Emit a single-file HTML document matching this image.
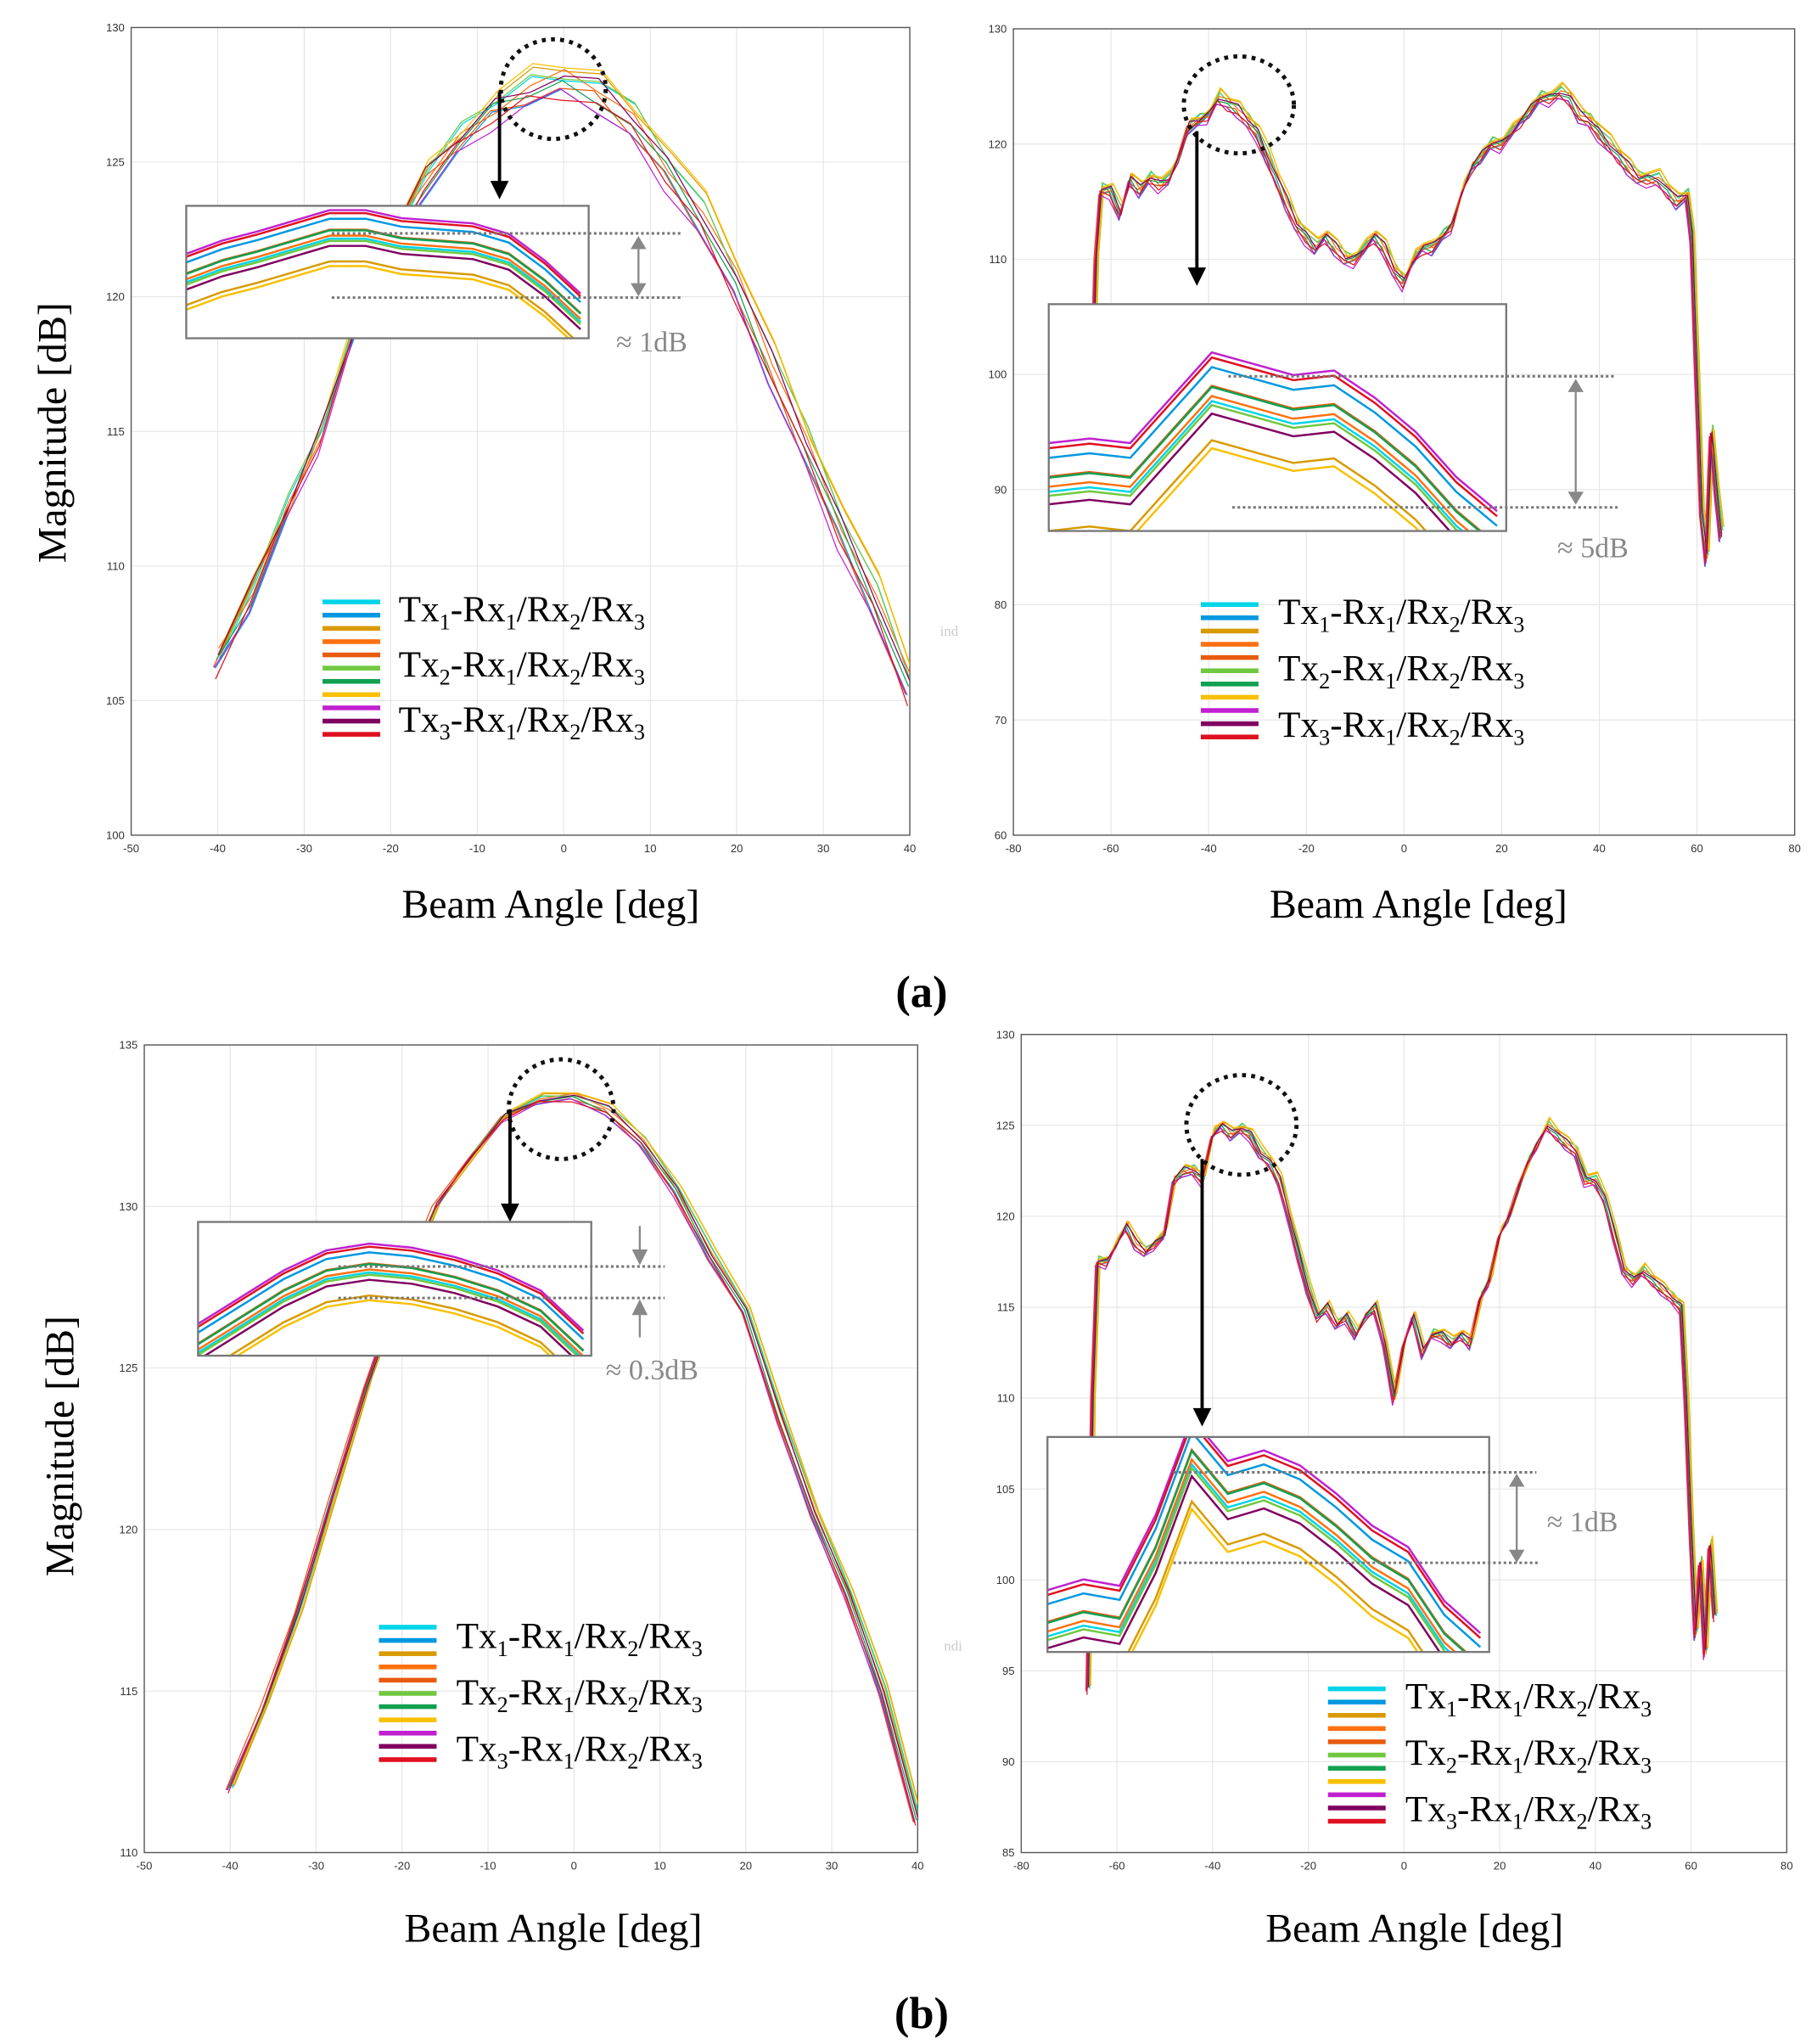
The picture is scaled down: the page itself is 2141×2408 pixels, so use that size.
<!DOCTYPE html>
<html><head><meta charset="utf-8"><style>
html,body{margin:0;padding:0;background:#fff}
svg{display:block}
text{font-family:"Liberation Serif",serif}
.tk{font-family:"Liberation Sans",sans-serif;font-size:8.5px;fill:#333}
</style></head><body>
<svg id="fig" width="2141" height="2408" viewBox="0 0 1386 1559" xmlns="http://www.w3.org/2000/svg">
</svg>
<script>
// ---- data ----
const colors = ["#00d4e8","#0098e0","#d89a00","#ff7010","#e85a10","#70c840","#10a050","#f8c000","#c020d0","#800060","#e01020"];
const seriesOffset = [0.25,-0.35,0.4,0.1,-0.2,0.3,-0.1,0.5,-0.45,0.15,-0.3];
const seriesShift = [0.6,-0.6,1.0,0.2,-1.0,0.4,-0.3,0.8,-0.8,0.1,-0.5];

const aL_x = [-40,-36,-32,-28,-24,-20,-16,-12,-8,-4,0,4,8,12,16,20,24,28,32,36,40];
const aL_y = [106.5,109,112,115,119,122,124.3,125.8,127,127.7,128,127.6,126.5,124.8,123,120.5,117.5,114.5,111.5,108.8,105.5];

const aR_x = [-64,-63,-62,-60,-58,-56,-54,-52,-50,-48,-46,-44,-42,-40,-38,-36,-34,-32,-30,-28,-26,-24,-22,-20,-18,-16,-14,-12,-10,-8,-6,-4,-2,0,2,4,6,8,10,12,14,16,18,20,22,24,26,28,30,32,34,36,38,40,42,44,46,48,50,52,54,56,58,59,60,61,62,63,64,65];
const aR_y = [96,110,116,116,114,117,116,117,116.5,117,119,121.5,122,122.5,124,123.5,123,122,121,119,117,115,113,112,111,112,111,110,110,111,112,111,109,108,110,111,111,112,113,116,118,119,120,120,121,122,123,124,124,124.5,124,122.5,122,121,120,119,118,117,117,117,116,115,115.5,112,100,88,84,95,90,86];

const bL_x = [-40,-36,-32,-28,-24,-20,-16,-12,-8,-4,0,4,8,12,16,20,24,28,32,36,40];
const bL_y = [112,114.5,117.5,121,124.5,127.5,130,131.5,132.8,133.3,133.4,133,132,130.5,128.5,126.8,123.5,120.5,118,115,111];

const bR_x = [-66,-65,-64,-62,-60,-58,-56,-54,-52,-50,-48,-46,-44,-42,-40,-38,-36,-34,-32,-30,-28,-26,-24,-22,-20,-18,-16,-14,-12,-10,-8,-6,-4,-2,0,2,4,6,8,10,12,14,16,18,20,22,24,26,28,30,32,34,36,38,40,42,44,46,48,50,52,54,56,58,59,60,61,62,63,64,65];
const bR_y = [94,110,117.5,117.5,118.5,119.5,118.5,118,118.5,119,122,122.5,122.5,122,124.5,125,124.5,124.8,124.5,123.5,123,122,120,118,116,114.5,115,114,114.5,113.5,114.5,115,113,110,113,114.5,112.5,113.5,113.5,113,113.5,113,115.5,116.5,119,120,121.5,123,124,125,124.5,124,123.5,122,122,121,119,117,116.5,117,116.5,116,115.5,115,110,103,97,101,96,102,98];

const inset_aL = [0.55,0.45,0.38,0.3,0.22,0.22,0.28,0.3,0.32,0.4,0.6,0.85];
const inset_aR = [0.8,0.78,0.8,0.6,0.4,0.45,0.5,0.48,0.6,0.75,0.95,1.1];
const inset_bL = [0.95,0.75,0.55,0.4,0.35,0.38,0.45,0.55,0.7,1.0];
const inset_bR = [0.9,0.85,0.88,0.55,0.1,0.3,0.25,0.32,0.45,0.6,0.7,0.95,1.1];

const legendLabels = [["Tx","1"],["Tx","2"],["Tx","3"]];

// ---- drawing ----
const NS = "http://www.w3.org/2000/svg";
const svg = document.getElementById("fig");
function mk(tag, attrs, parent){const e=document.createElementNS(NS,tag);for(const k in attrs)e.setAttribute(k,attrs[k]);(parent||svg).appendChild(e);return e;}

function panel(id, box, xr, xstep, yr, ystep, xs, ys, amp){
  const [x0,y0,x1,y1]=box;
  const g=mk("g",{});
  
  
  const sx=v=>x0+(v-xr[0])/(xr[1]-xr[0])*(x1-x0);
  const sy=v=>y1-(v-yr[0])/(yr[1]-yr[0])*(y1-y0);
  for(let v=xr[0];v<=xr[1]+1e-6;v+=xstep){
    mk("line",{x1:sx(v),x2:sx(v),y1:y0,y2:y1,stroke:"#e4e4e4","stroke-width":0.7},g);
    const t=mk("text",{x:sx(v),y:y1+13,"text-anchor":"middle",class:"tk"},g);t.textContent=v;
    
    
  }
  for(let v=yr[0];v<=yr[1]+1e-6;v+=ystep){
    mk("line",{x1:x0,x2:x1,y1:sy(v),y2:sy(v),stroke:"#e4e4e4","stroke-width":0.7},g);
    const t=mk("text",{x:x0-5,y:sy(v)+3,"text-anchor":"end",class:"tk"},g);t.textContent=v;
    
    
  }
  const ax=mk("rect",{x:x0,y:y0,width:x1-x0,height:y1-y0,fill:"none",stroke:"#555","stroke-width":0.9},g);
  
  
  const cid="pclip-"+id;
  const cp=mk("clipPath",{id:cid},g);mk("rect",{x:x0,y:y0,width:x1-x0,height:y1-y0},cp);
  colors.forEach((c,i)=>{
    const pts=xs.map((x,k)=>{const w=((k*7+i*3)%5-2)*0.12*amp;return sx(x+seriesShift[i]*0.5)+","+sy(ys[k]+seriesOffset[i]*amp+w);}).join(" ");
    const p=mk("polyline",{points:pts,fill:"none",stroke:c,"stroke-width":0.8,"clip-path":"url(#"+cid+")"},g);
    
    
  });
  return g;
}

function inset(id, box, vals){
  const [x0,y0,x1,y1]=box;
  const g=mk("g",{});
  
  
  mk("rect",{x:x0,y:y0,width:x1-x0,height:y1-y0,fill:"#fff"},g);
  const cid="iclip-"+id;
  const cp=mk("clipPath",{id:cid},g);mk("rect",{x:x0,y:y0,width:x1-x0,height:y1-y0},cp);
  const n=vals.length;
  colors.forEach((c,i)=>{
    const pts=vals.map((v,k)=>{const w=((k*5+i*7)%5-2)*0.03;return (x0+k/(n-1)*(x1-x0)*0.98)+","+(y0+(v+seriesOffset[i]*0.35+w)*(y1-y0));}).join(" ");
    const p=mk("polyline",{points:pts,fill:"none",stroke:c,"stroke-width":1.6,"clip-path":"url(#"+cid+")"},g);
    
    
  });
  mk("rect",{x:x0,y:y0,width:x1-x0,height:y1-y0,fill:"none",stroke:"#777","stroke-width":1.5},g);
}

function dotted(x1,y,x2){mk("line",{x1:x1,x2:x2,y1:y,y2:y,stroke:"#777","stroke-width":2,"stroke-dasharray":"2,2"});}
function darrow(x,ya,yb){
  mk("line",{x1:x,x2:x,y1:ya+8,y2:yb-8,stroke:"#888","stroke-width":1.5});
  mk("polygon",{points:`${x-6},${ya+10} ${x+6},${ya+10} ${x},${ya}`,fill:"#888"});
  mk("polygon",{points:`${x-6},${yb-10} ${x+6},${yb-10} ${x},${yb}`,fill:"#888"});
}
function circ(cx,cy,rx,ry){const e=mk("ellipse",{cx:cx,cy:cy,rx:rx,ry:ry,fill:"none",stroke:"#111","stroke-width":3.2,"stroke-dasharray":"3,4"});}
function arrow(x,ya,yb){mk("line",{x1:x,x2:x,y1:ya,y2:yb-12,stroke:"#000","stroke-width":2.5});mk("polygon",{points:`${x-7},${yb-14} ${x+7},${yb-14} ${x},${yb}`,fill:"#000"});}
function txt(x,y,s,size,attrs){const t=mk("text",Object.assign({x:x,y:y,"font-size":size},attrs||{}));t.textContent=s;return t;}

function legend(x,y0,textX,rows){
  const g=mk("g",{});
  
  
  colors.forEach((c,i)=>{const r=mk("rect",{x:x,y:y0+i*10.1-1.7,width:44,height:3.6,fill:c},g);
    });
  rows.forEach((ry,i)=>{
    const t=mk("text",{x:textX,y:ry,"font-size":28},g);
    
    const n=legendLabels[i][1];
    t.innerHTML=`Tx<tspan font-size="17" dy="6">${n}</tspan><tspan dy="-6">-Rx</tspan><tspan font-size="17" dy="6">1</tspan><tspan dy="-6">/Rx</tspan><tspan font-size="17" dy="6">2</tspan><tspan dy="-6">/Rx</tspan><tspan font-size="17" dy="6">3</tspan>`;
  });
}

// Panel (a) left
panel("a-left",[100,21,694,637],[-50,40],10,[100,130],5,aL_x,aL_y,1.3);
circ(422,68,40,38); arrow(381,70,152);
inset("a-left",[142,157,449,258],inset_aL);
dotted(253,178,520); dotted(253,227,520); darrow(487,180,226);
txt(470,268,"≈ 1dB",22,{fill:"#888"});
legend(246,459,304,[474,516,558]);
// Panel (a) right
panel("a-right",[773,22,1369,637],[-80,80],20,[60,130],10,aR_x,aR_y,1.2);
circ(945,80,42,37); arrow(913,100,218);
inset("a-right",[800,232,1149,405],inset_aR);
dotted(937,287,1233); dotted(940,387,1236); darrow(1202,289,385);
txt(1188,425,"≈ 5dB",22,{fill:"#888"});
legend(916,461,975,[476,519,562]);
txt(717,485,"ind",11,{fill:"#ccc"});
// Panel (b) left
panel("b-left",[110,797,700,1413],[-50,40],10,[110,135],5,bL_x,bL_y,0.3);
circ(428,846,40,38); arrow(389,846,932);
inset("b-left",[151,932,451,1034],inset_bL);
dotted(258,966,507); dotted(258,990,507);
mk("line",{x1:488,x2:488,y1:935,y2:955,stroke:"#888","stroke-width":1.5});mk("polygon",{points:"482,953 494,953 488,965",fill:"#888"});
mk("line",{x1:488,x2:488,y1:1001,y2:1020,stroke:"#888","stroke-width":1.5});mk("polygon",{points:"482,1003 494,1003 488,991",fill:"#888"});
txt(462,1052,"≈ 0.3dB",22,{fill:"#888"});
legend(289,1241,348,[1257,1300,1343]);
// Panel (b) right
panel("b-right",[779,789,1363,1413],[-80,80],20,[85,130],5,bR_x,bR_y,0.6);
circ(947,858,42,38); arrow(917,884,1088);
inset("b-right",[799,1096,1136,1260],inset_bR);
dotted(895,1123,1172); dotted(895,1192,1175); darrow(1157,1124,1192);
txt(1180,1168,"≈ 1dB",22,{fill:"#888"});
legend(1013,1288,1072,[1303,1346,1389]);
txt(720,1259,"ndi",11,{fill:"#ccc"});

// axis titles
[[420,700],[1082,700],[422,1481],[1079,1481]].forEach(p=>{const t=txt(p[0],p[1],"Beam Angle [deg]",31,{"text-anchor":"middle"});});
[[50,330],[56,1103]].forEach(p=>{const t=txt(p[0],p[1],"Magnitude [dB]",31,{"text-anchor":"middle",transform:`rotate(-90 ${p[0]} ${p[1]})`});});
const la=txt(703,768,"(a)",34,{"text-anchor":"middle","font-weight":"bold"});
const lb=txt(703,1547,"(b)",34,{"text-anchor":"middle","font-weight":"bold"});
</script>
</body></html>
